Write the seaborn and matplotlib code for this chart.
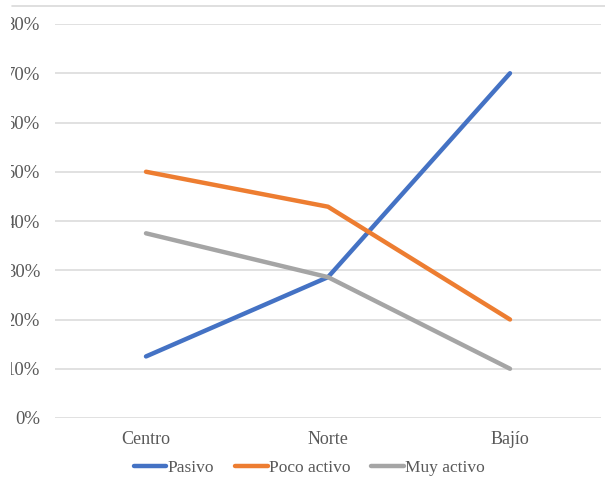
import matplotlib
matplotlib.use("Agg")
import matplotlib.pyplot as plt
from matplotlib.patches import Rectangle
from matplotlib.lines import Line2D
from matplotlib.ticker import PercentFormatter
import seaborn as sns
import pandas as pd

# Regions and share of each activity level
regiones = ["Centro", "Norte", "Bajío"]
pasivo = [0.125, 0.286, 0.70]
poco_activo = [0.50, 0.429, 0.20]
muy_activo = [0.375, 0.286, 0.10]
series = ["Pasivo", "Poco activo", "Muy activo"]
colores = ["#4472C4", "#ED7D31", "#A5A5A5"]
yticks = [0, 0.1, 0.2, 0.3, 0.4, 0.5, 0.6, 0.7, 0.8]

df = pd.DataFrame({
    "Región": regiones * 3,
    "Valor": pasivo + poco_activo + muy_activo,
    "Serie": [s for s in series for _ in regiones],
})

sns.set_theme(style="white")
plt.rcParams["font.family"] = ["Liberation Serif", "DejaVu Serif"]

fig = plt.figure(figsize=(6.05, 4.83), dpi=100)
ax = fig.add_axes([55 / 605, 1 - 418 / 483, 546 / 605, 394 / 483])

sns.lineplot(data=df, x="Región", y="Valor", hue="Serie", hue_order=series,
             palette=colores, linewidth=3.2, sort=False, legend=False, ax=ax,
             solid_capstyle="round")

ax.set_xlim(-0.5, 2.5)
ax.set_ylim(0, 0.8)
ax.set_yticks(yticks)
ax.yaxis.set_major_formatter(PercentFormatter(1.0, decimals=0))
ax.grid(axis="y", color="#D9D9D9", linewidth=1.1)
ax.set_axisbelow(True)
for sp in ax.spines.values():
    sp.set_visible(False)
ax.set_xlabel("")
ax.set_ylabel("")
ax.tick_params(axis="y", length=0, pad=10.8, labelsize=13.5, labelcolor="#595959")
ax.tick_params(axis="x", length=0, pad=9, labelsize=13, labelcolor="#595959")

handles = [Line2D([0], [0], color=c, linewidth=3.2) for c in colores]
fig.legend(handles, series, loc="center", ncol=3, frameon=False,
           bbox_to_anchor=(309 / 605, 1 - 468 / 483), fontsize=12.5,
           handlelength=1.9, handletextpad=0.05, columnspacing=1.2,
           labelcolor="#595959")

# thin rule across the top of the frame
fig.add_artist(Line2D([12 / 605, 1], [1 - 6 / 483, 1 - 6 / 483],
                      color="#D9D9D9", linewidth=1.2, transform=fig.transFigure))
# left margin strip of the frame
fig.add_artist(Rectangle((0, 0), 11 / 605, 1, transform=fig.transFigure,
                         facecolor="white", edgecolor="none", zorder=10))

fig.savefig("out.png", dpi=100)
